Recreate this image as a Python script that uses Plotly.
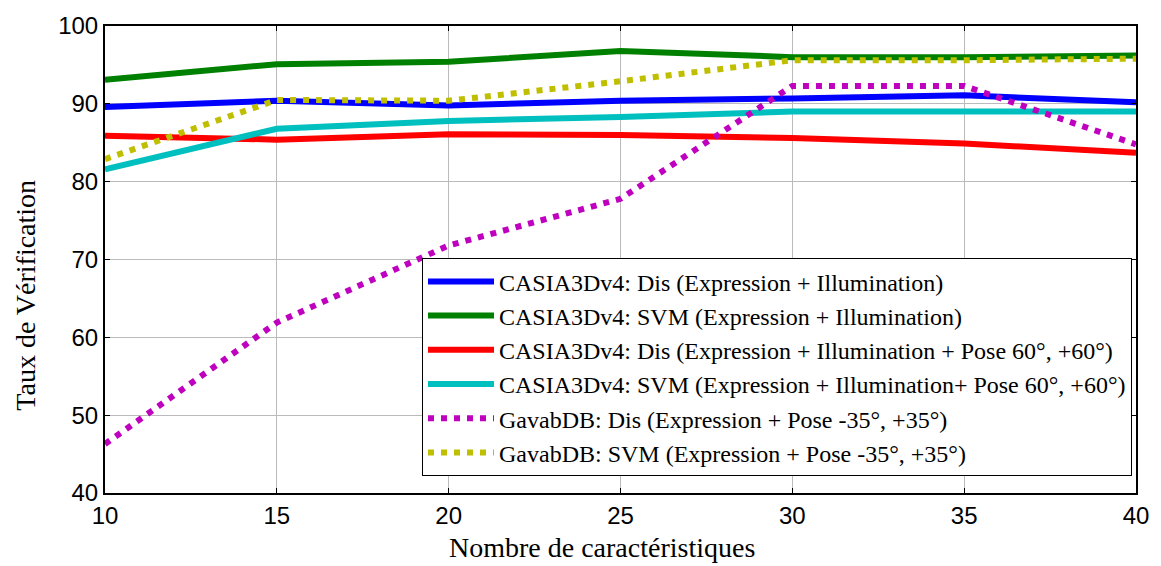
import plotly.graph_objects as go

x_vals = [10, 15, 20, 25, 30, 35, 40]

casia_dis_ei = [89.6, 90.4, 89.8, 90.4, 90.7, 91.1, 90.2]
casia_svm_ei = [93.1, 95.1, 95.4, 96.8, 96.0, 96.0, 96.2]
casia_dis_eip = [85.9, 85.4, 86.1, 86.0, 85.6, 84.9, 83.7]
casia_svm_eip = [81.6, 86.8, 87.8, 88.3, 89.0, 89.0, 89.0]
gavab_dis = [46.3, 61.9, 71.8, 77.8, 92.3, 92.3, 84.8]
gavab_svm = [82.9, 90.5, 90.4, 92.9, 95.6, 95.6, 95.8]

names = [
    "CASIA3Dv4: Dis (Expression + Illumination)",
    "CASIA3Dv4: SVM (Expression + Illumination)",
    "CASIA3Dv4: Dis (Expression + Illumination + Pose 60°, +60°)",
    "CASIA3Dv4: SVM (Expression + Illumination+ Pose 60°, +60°)",
    "GavabDB: Dis (Expression + Pose -35°, +35°)",
    "GavabDB: SVM (Expression + Pose -35°, +35°)",
]
series = [casia_dis_ei, casia_svm_ei, casia_dis_eip, casia_svm_eip, gavab_dis, gavab_svm]
colors = ["#0000FF", "#008000", "#FF0000", "#00BFBF", "#BF00BF", "#BFBF00"]
dashes = ["solid", "solid", "solid", "solid", "6px,7px", "6px,7px"]

fig = go.Figure()
for n, s, c, d in zip(names, series, colors, dashes):
    fig.add_trace(go.Scatter(x=x_vals, y=s, mode="lines", name=n,
                             line=dict(color=c, width=6, dash=d)))

axis_common = dict(
    showline=True, linecolor="black", linewidth=2, mirror="ticks",
    ticks="inside", ticklen=5, tickcolor="black", tickwidth=1,
    showgrid=True, gridcolor="#BBBBBB", gridwidth=1,
    zeroline=False,
    tickfont=dict(family="Liberation Sans, Arial", size=24, color="black"),
)

fig.update_xaxes(range=[10, 40], tickvals=[10, 15, 20, 25, 30, 35, 40], **axis_common)
fig.update_yaxes(range=[40, 100], tickvals=[40, 50, 60, 70, 80, 90, 100], **axis_common)

serif = "Liberation Serif, Times New Roman"
fig.add_annotation(text="Nombre de caractéristiques", xref="paper", yref="paper",
                   x=(604 - 105) / 1035, y=-(548 - 493) / 475, xanchor="center", yanchor="middle",
                   showarrow=False, font=dict(family=serif, size=28, color="black"))
fig.add_annotation(text="Taux de Vérification", xref="paper", yref="paper",
                   x=-(105 - 25) / 1035, y=(493 - 292) / 475, xanchor="center", yanchor="middle",
                   textangle=-90, showarrow=False, font=dict(family=serif, size=28, color="black"))

fig.update_layout(
    width=1161, height=566,
    margin=dict(l=105, r=21, t=18, b=73),
    plot_bgcolor="white", paper_bgcolor="white",
    showlegend=True,
    legend=dict(
        x=(1136 - 105) / 1035, y=(493 - 476) / 475, xanchor="right", yanchor="bottom",
        bgcolor="white", bordercolor="black", borderwidth=1,
        font=dict(family=serif, size=24, color="black"),
        tracegroupgap=0, itemwidth=66,
    ),
)

fig.write_html("out.html")
